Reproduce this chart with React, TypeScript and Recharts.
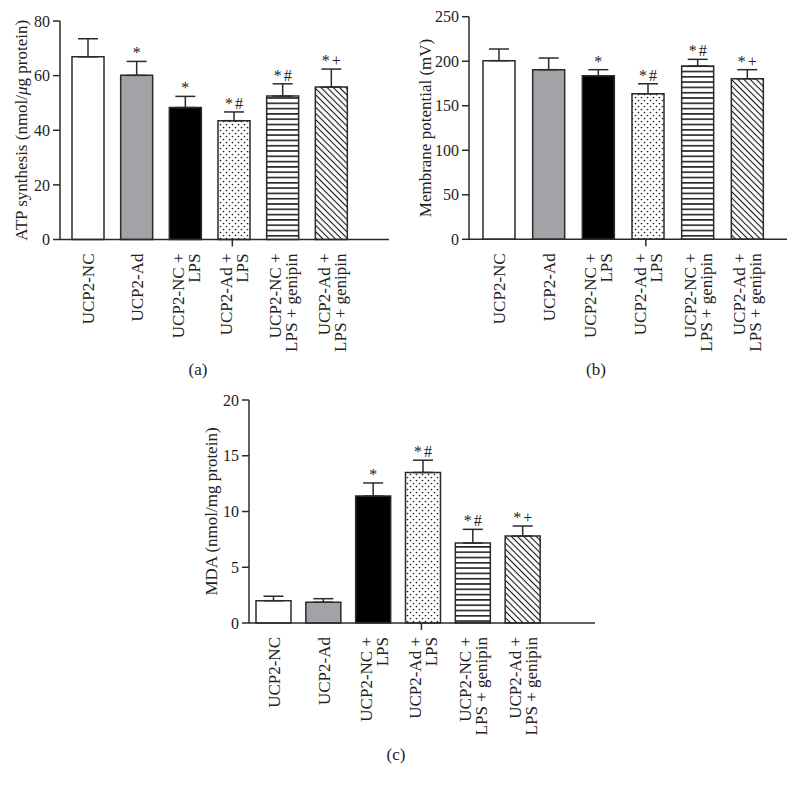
import React from "react";
import { Bar, BarChart, Cell, ErrorBar, LabelList, XAxis, YAxis } from "recharts";

const categories = [
  "UCP2-NC",
  "UCP2-Ad",
  "UCP2-NC + LPS",
  "UCP2-Ad + LPS",
  "UCP2-NC + LPS + genipin",
  "UCP2-Ad + LPS + genipin",
];

const atpMean = [66.9, 60.1, 48.3, 43.5, 52.5, 55.8];
const atpErr = [6.6, 5.1, 4.1, 3.2, 4.5, 6.6];
const atpSig = ["", "*", "*", "*#", "*#", "*+"];
const atpTicks = [0, 20, 40, 60, 80];

const mpMean = [200.6, 190.5, 183.7, 163.5, 194.6, 180.3];
const mpErr = [13.1, 13.1, 6.8, 11.2, 7.5, 10.2];
const mpSig = ["", "", "*", "*#", "*#", "*+"];
const mpTicks = [0, 50, 100, 150, 200, 250];

const mdaMean = [2.0, 1.86, 11.39, 13.5, 7.17, 7.8];
const mdaErr = [0.4, 0.32, 1.17, 1.1, 1.23, 0.9];
const mdaSig = ["", "", "*", "*#", "*#", "*+"];
const mdaTicks = [0, 5, 10, 15, 20];

const FONT = "'Liberation Serif', 'DejaVu Serif', serif";
const INK = "#2b2b2b";

function CatTick(props: any) {
  const { x, y, payload } = props;
  const name: string = payload.value;
  const i = name.indexOf(" + ");
  const lines = i < 0 ? [name] : [name.slice(0, i + 2), name.slice(i + 3)];
  const offsets = lines.length === 1 ? [6] : [-2, 14];
  return (
    <g>
      {name === categories[3] && (
        <line x1={x - 2} x2={x - 2} y1={y} y2={y + 7} stroke={INK} strokeWidth={1.5} />
      )}
      <g transform={`translate(${x},${y + 14}) rotate(-90)`}>
        {lines.map((l, k) => (
          <text key={k} x={0} y={offsets[k]} textAnchor="end" fontSize={17} fontFamily={FONT} fill="#222">
            {l}
          </text>
        ))}
      </g>
    </g>
  );
}

interface PanelProps {
  id: string;
  left: number;
  top: number;
  width: number;
  height: number;
  margin: { top: number; right: number; bottom: number; left: number };
  yWidth: number;
  ticks: number[];
  yLabel: React.ReactNode;
  labelX: number;
  mean: number[];
  err: number[];
  sig: string[];
  padding: { left: number; right: number };
  barSize: number;
}

function Panel(p: PanelProps) {
  const data = categories.map((name, i) => ({
    name,
    mean: p.mean[i],
    err: [0, p.err[i]],
    sig: p.sig[i],
  }));
  const fills = [
    "#ffffff",
    "#a3a3a7",
    "#000000",
    `url(#dots-${p.id})`,
    `url(#hl-${p.id})`,
    `url(#dg-${p.id})`,
  ];
  const max = p.ticks[p.ticks.length - 1];
  return (
    <div style={{ position: "absolute", left: p.left, top: p.top }}>
      <BarChart width={p.width} height={p.height} data={data} margin={p.margin}>
        <defs>
          <pattern id={`dots-${p.id}`} width={6} height={6} patternUnits="userSpaceOnUse">
            <rect width={6} height={6} fill="#fff" />
            <circle cx={1.5} cy={1.5} r={0.85} fill="#222" />
            <circle cx={4.5} cy={4.5} r={0.85} fill="#222" />
          </pattern>
          <pattern id={`hl-${p.id}`} width={6} height={5.3} patternUnits="userSpaceOnUse">
            <rect width={6} height={5.3} fill="#fff" />
            <line x1={0} x2={6} y1={2.6} y2={2.6} stroke="#111" strokeWidth={1.5} />
          </pattern>
          <pattern
            id={`dg-${p.id}`}
            width={4.4}
            height={6}
            patternUnits="userSpaceOnUse"
            patternTransform="rotate(-45)"
          >
            <rect width={4.4} height={6} fill="#fff" />
            <line x1={2.2} x2={2.2} y1={0} y2={6} stroke="#111" strokeWidth={1.1} />
          </pattern>
        </defs>
        <XAxis
          dataKey="name"
          interval={0}
          height={110}
          tickLine={false}
          tickSize={0}
          tickMargin={0}
          axisLine={{ stroke: INK, strokeWidth: 1.5 }}
          padding={p.padding}
          tick={<CatTick />}
        />
        <YAxis
          width={p.yWidth}
          domain={[0, max]}
          ticks={p.ticks}
          interval={0}
          tickSize={7}
          tickMargin={3}
          axisLine={{ stroke: INK, strokeWidth: 1.5 }}
          tickLine={{ stroke: INK, strokeWidth: 1.5 }}
          tick={{ fontSize: 16, fontFamily: FONT, fill: "#222" }}
          label={(lp: any) => {
            const vb = lp.viewBox;
            const cy = vb.y + vb.height / 2;
            return (
              <text
                x={p.labelX}
                y={cy}
                transform={`rotate(-90 ${p.labelX} ${cy})`}
                textAnchor="middle"
                dominantBaseline="central"
                fontSize={17}
                fontFamily={FONT}
                fill="#222"
              >
                {p.yLabel}
              </text>
            );
          }}
        />
        <Bar dataKey="mean" barSize={p.barSize} stroke={INK} strokeWidth={1.5} isAnimationActive={false}>
          {data.map((d, i) => (
            <Cell key={d.name} fill={fills[i]} />
          ))}
          <ErrorBar
            dataKey="err"
            width={10}
            stroke={INK}
            strokeWidth={1.5}
            direction="y"
            isAnimationActive={false}
          />
          <LabelList
            dataKey="sig"
            content={(lp: any) => {
              const { x, y, width, height, index } = lp;
              const s = p.sig[index];
              if (!s) return null;
              const top = y - (p.err[index] * height) / p.mean[index];
              return (
                <text
                  x={x + width / 2}
                  y={top - 3}
                  textAnchor="middle"
                  fontSize={16}
                  fontFamily={FONT}
                  fill="#222"
                >
                  <tspan>{s[0]}</tspan>
                  {s.length > 1 && <tspan dx={2}>{s.slice(1)}</tspan>}
                </text>
              );
            }}
          />
        </Bar>
      </BarChart>
    </div>
  );
}

const panelLabel: React.CSSProperties = {
  position: "absolute",
  fontFamily: FONT,
  fontSize: 17,
  color: "#222",
  transform: "translate(-50%, -50%)",
};

export default function App() {
  return (
    <div style={{ position: "absolute", left: 0, top: 0, width: 796, height: 788, background: "#fff" }}>
      <Panel
        id="a"
        left={0}
        top={0}
        width={400}
        height={360}
        margin={{ top: 21, right: 11, bottom: 10.5, left: 0 }}
        yWidth={60}
        ticks={atpTicks}
        yLabel={
          <>
            ATP synthesis (nmol/<tspan fontStyle="italic">μ</tspan>g protein)
          </>
        }
        labelX={21}
        mean={atpMean}
        err={atpErr}
        sig={atpSig}
        padding={{ left: 4, right: 33 }}
        barSize={32}
      />
      <Panel
        id="b"
        left={400}
        top={0}
        width={396}
        height={360}
        margin={{ top: 16.7, right: 9, bottom: 10.7, left: 0 }}
        yWidth={69}
        ticks={mpTicks}
        yLabel="Membrane potential (mV)"
        labelX={25}
        mean={mpMean}
        err={mpErr}
        sig={mpSig}
        padding={{ left: 5, right: 15 }}
        barSize={32}
      />
      <Panel
        id="c"
        left={190}
        top={380}
        width={410}
        height={380}
        margin={{ top: 20, right: 5, bottom: 27, left: 0 }}
        yWidth={59}
        ticks={mdaTicks}
        yLabel="MDA (nmol/mg protein)"
        labelX={21}
        mean={mdaMean}
        err={mdaErr}
        sig={mdaSig}
        padding={{ left: 0, right: 47 }}
        barSize={35}
      />
      <div style={{ ...panelLabel, left: 198, top: 370 }}>(a)</div>
      <div style={{ ...panelLabel, left: 596, top: 370 }}>(b)</div>
      <div style={{ ...panelLabel, left: 396, top: 755 }}>(c)</div>
    </div>
  );
}
